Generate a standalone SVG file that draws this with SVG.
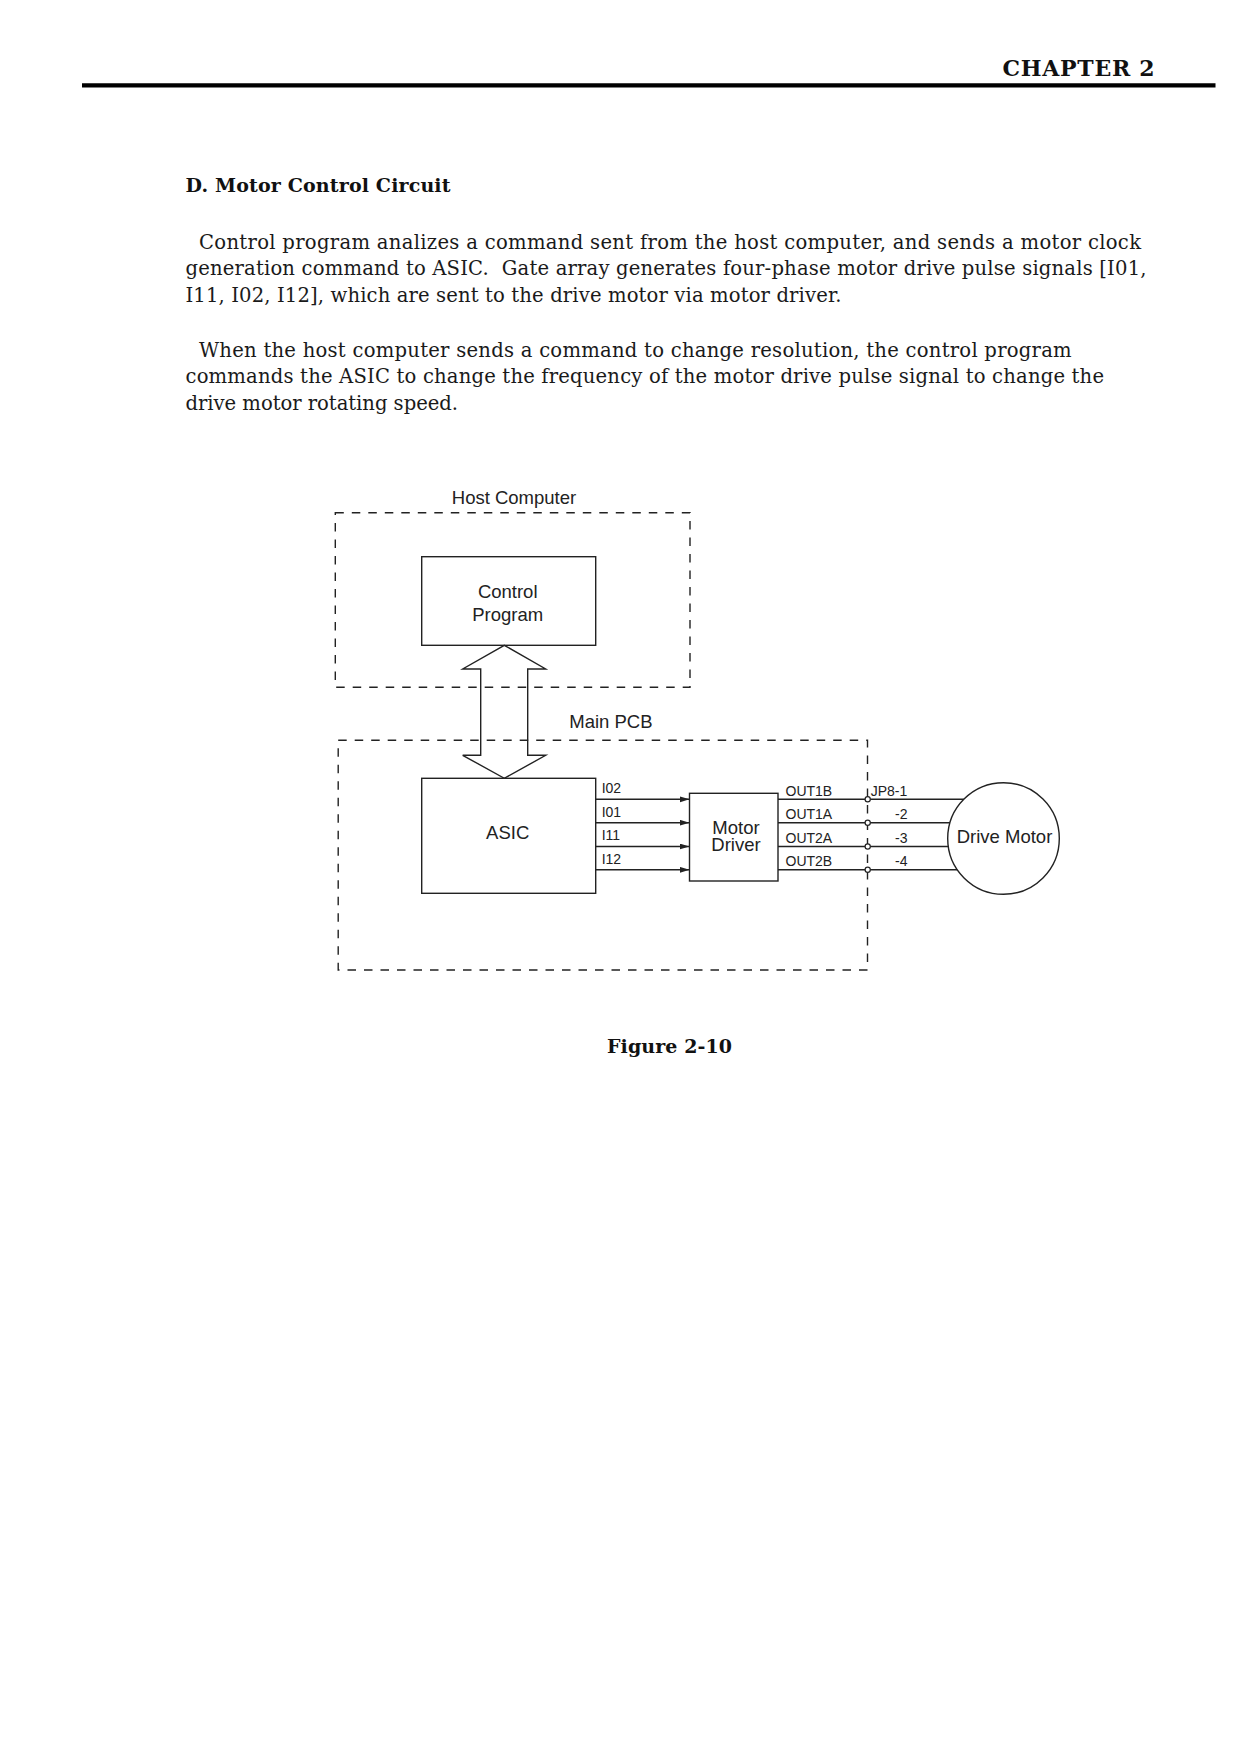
<svg xmlns="http://www.w3.org/2000/svg" width="1240" height="1754" viewBox="0 0 1240 1754">
<style>
.body{font-family:"DejaVu Serif","Liberation Serif",serif;font-size:19.6px;fill:#1a1a1a}
.bold{font-family:"DejaVu Serif","Liberation Serif",serif;font-weight:bold;fill:#111}
.lbl{font-family:"Liberation Sans",Arial,sans-serif;font-size:18.5px;fill:#222}
.sm{font-family:"Liberation Sans",Arial,sans-serif;font-size:14px;fill:#222}
.box{fill:none;stroke:#222;stroke-width:1.4}
.dash{fill:none;stroke:#222;stroke-width:1.4;stroke-dasharray:8.5 8}
.wire{fill:none;stroke:#222;stroke-width:1.4}
.jn{fill:#fff;stroke:#222;stroke-width:1.2}
</style>
<defs>
<marker id="ah" markerUnits="userSpaceOnUse" markerWidth="11" markerHeight="7" refX="10" refY="3" orient="auto">
<path d="M0,0 L10,3 L0,6 z" fill="#222"/>
</marker>
</defs>
<rect width="1240" height="1754" fill="#fff"/>

<text class="bold" x="1154.6" y="76" font-size="22" text-anchor="end" textLength="152">CHAPTER 2</text>
<line x1="82" y1="85.3" x2="1215.5" y2="85.3" stroke="#000" stroke-width="4.2"/>
<text class="bold" x="185.5" y="192" font-size="19" textLength="265">D. Motor Control Circuit</text>

<text class="body" x="199" y="248.5" textLength="942">Control program analizes a command sent from the host computer, and sends a motor clock</text>
<text class="body" x="185.5" y="275" textLength="961" xml:space="preserve">generation command to ASIC.  Gate array generates four-phase motor drive pulse signals [I01,</text>
<text class="body" x="185.5" y="301.7" textLength="656">I11, I02, I12], which are sent to the drive motor via motor driver.</text>
<text class="body" x="199" y="356.7" textLength="872.7">When the host computer sends a command to change resolution, the control program</text>
<text class="body" x="185.5" y="383.3" textLength="918.5">commands the ASIC to change the frequency of the motor drive pulse signal to change the</text>
<text class="body" x="185.5" y="409.5" textLength="272.5">drive motor rotating speed.</text>

<g id="host-computer">
<rect class="dash" x="335.3" y="512.7" width="354.7" height="174.5"/>
<text class="lbl" x="514" y="504" text-anchor="middle">Host Computer</text>
</g>
<g id="main-pcb">
<rect class="dash" x="338.2" y="740.3" width="529.3" height="229.7"/>
<text class="lbl" x="569.3" y="727.7">Main PCB</text>
</g>
<g id="control-program">
<rect class="box" x="421.7" y="556.7" width="174" height="88.6"/>
<text class="lbl" x="507.7" y="598" text-anchor="middle">Control</text>
<text class="lbl" x="507.7" y="621" text-anchor="middle">Program</text>
</g>
<g id="asic">
<rect class="box" x="421.7" y="778.3" width="174" height="115"/>
<text class="lbl" x="507.7" y="839" text-anchor="middle">ASIC</text>
</g>
<g id="motor-driver">
<rect class="box" x="689.5" y="793.3" width="88.5" height="87.7"/>
<text class="lbl" x="736" y="833.5" text-anchor="middle">Motor</text>
<text class="lbl" x="736" y="851.3" text-anchor="middle">Driver</text>
</g>
<g id="drive-motor">
<circle class="box" cx="1003.5" cy="838.5" r="55.8"/>
<text class="lbl" x="1004.5" y="843" text-anchor="middle">Drive Motor</text>
</g>

<g id="connectors">
<polygon class="wire" points="504.3,645.3 545.7,669 527.7,669 527.7,755.3 545.7,755.3 504.3,778.3 462.7,755.3 480.7,755.3 480.7,669 462.7,669"/>
<line class="wire" x1="595.7" y1="799.3" x2="689.5" y2="799.3" marker-end="url(#ah)"/>
<line class="wire" x1="595.7" y1="822.7" x2="689.5" y2="822.7" marker-end="url(#ah)"/>
<line class="wire" x1="595.7" y1="846.5" x2="689.5" y2="846.5" marker-end="url(#ah)"/>
<line class="wire" x1="595.7" y1="869.8" x2="689.5" y2="869.8" marker-end="url(#ah)"/>
<text class="sm" x="601.7" y="793.3">I02</text>
<text class="sm" x="601.7" y="816.7">I01</text>
<text class="sm" x="601.7" y="840.3">I11</text>
<text class="sm" x="601.7" y="863.6">I12</text>
<line class="wire" x1="778" y1="799.3" x2="963.8" y2="799.3"/>
<line class="wire" x1="778" y1="822.7" x2="950" y2="822.7"/>
<line class="wire" x1="778" y1="846.5" x2="948.2" y2="846.5"/>
<line class="wire" x1="778" y1="869.8" x2="957.2" y2="869.8"/>
<circle class="jn" cx="867.7" cy="799.3" r="2.6"/>
<circle class="jn" cx="867.7" cy="822.7" r="2.6"/>
<circle class="jn" cx="867.7" cy="846.5" r="2.6"/>
<circle class="jn" cx="867.7" cy="869.8" r="2.6"/>
<text class="sm" x="785.5" y="795.8">OUT1B</text>
<text class="sm" x="785.5" y="819">OUT1A</text>
<text class="sm" x="785.5" y="842.8">OUT2A</text>
<text class="sm" x="785.5" y="866.2">OUT2B</text>
<text class="sm" x="870.7" y="795.8">JP8-1</text>
<text class="sm" x="907.5" y="819" text-anchor="end">-2</text>
<text class="sm" x="907.5" y="842.8" text-anchor="end">-3</text>
<text class="sm" x="907.5" y="866.2" text-anchor="end">-4</text>
</g>

<text class="bold" x="669.5" y="1053" font-size="19" text-anchor="middle" textLength="125">Figure 2-10</text>
</svg>
